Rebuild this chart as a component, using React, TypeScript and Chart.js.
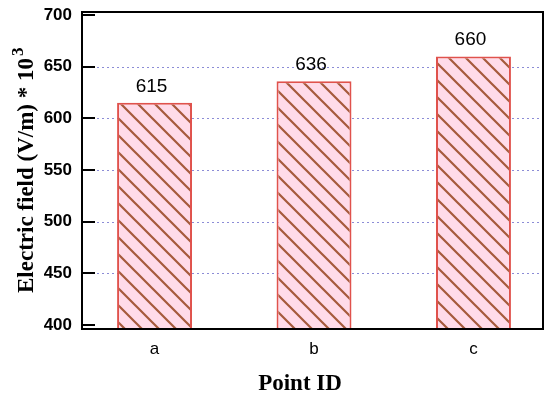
import React, { useEffect, useRef } from "react";
import { Chart, registerables } from "chart.js";

Chart.register(...registerables);

const categories = ["a", "b", "c"];
const fieldValues = [615, 636, 660];
const yTickValues = [400, 450, 500, 550, 600, 650, 700];
const gridValues = [450, 500, 550, 600, 650];
const yTitleMain = "Electric field (V/m) * 10";
const yTitleSup = "3";
const xTitle = "Point ID";

function makePattern(): CanvasPattern | string {
  const size = 17;
  const c = document.createElement("canvas");
  c.width = size;
  c.height = size;
  const g = c.getContext("2d");
  if (!g) return "#ffd9e8";
  g.fillStyle = "#ffdbe9";
  g.fillRect(0, 0, size, size);
  g.strokeStyle = "#a65a3c";
  g.lineWidth = 2.2;
  g.beginPath();
  g.moveTo(-2, -2);
  g.lineTo(size + 2, size + 2);
  g.moveTo(-2, size - 2);
  g.lineTo(2, size + 2);
  g.moveTo(size - 2, -2);
  g.lineTo(size + 2, 2);
  g.stroke();
  const p = g.createPattern(c, "repeat");
  return p || "#ffd9e8";
}

const framePlugin = {
  id: "framePlugin",
  beforeDatasetsDraw(chart: any) {
    const { ctx, chartArea } = chart;
    const y = chart.scales.y;
    ctx.save();
    ctx.strokeStyle = "#8c8cd6";
    ctx.lineWidth = 1;
    ctx.setLineDash([2, 3]);
    gridValues.forEach((v) => {
      const py = Math.round(y.getPixelForValue(v)) + 0.5;
      ctx.beginPath();
      ctx.moveTo(chartArea.left, py);
      ctx.lineTo(chartArea.right, py);
      ctx.stroke();
    });
    ctx.restore();
  },
  afterDatasetsDraw(chart: any) {
    const { ctx, chartArea } = chart;
    const y = chart.scales.y;
    ctx.save();
    // data labels
    const meta = chart.getDatasetMeta(0);
    ctx.fillStyle = "#000";
    ctx.font = "19px 'Liberation Sans', Arial, sans-serif";
    ctx.textAlign = "center";
    ctx.textBaseline = "alphabetic";
    meta.data.forEach((el: any, i: number) => {
      ctx.fillText(String(fieldValues[i]), el.x - 3, el.y - 11);
    });
    // frame
    ctx.strokeStyle = "#000";
    ctx.lineWidth = 2;
    ctx.strokeRect(
      chartArea.left,
      chartArea.top,
      chartArea.right - chartArea.left,
      chartArea.bottom - chartArea.top
    );
    // inside ticks
    yTickValues.forEach((v) => {
      const py = Math.round(y.getPixelForValue(v));
      ctx.beginPath();
      ctx.moveTo(chartArea.left, py);
      ctx.lineTo(chartArea.left + 13, py);
      ctx.stroke();
    });
    // x title
    ctx.font = "bold 23px 'Liberation Serif', 'Times New Roman', serif";
    ctx.textAlign = "center";
    ctx.fillText(xTitle, 300, 390);
    // y title
    ctx.translate(33, 293);
    ctx.rotate(-Math.PI / 2);
    ctx.textAlign = "left";
    ctx.font = "bold 23px 'Liberation Serif', 'Times New Roman', serif";
    ctx.fillText(yTitleMain, 0, 0);
    const w = ctx.measureText(yTitleMain).width;
    ctx.font = "bold 17px 'Liberation Serif', 'Times New Roman', serif";
    ctx.fillText(yTitleSup, w + 2, -10);
    ctx.restore();
  },
};

export default function App() {
  const ref = useRef<HTMLCanvasElement | null>(null);
  useEffect(() => {
    if (!ref.current) return;
    const pattern = makePattern();
    const chart = new Chart(ref.current, {
      type: "bar",
      data: {
        datasets: [
          {
            data: categories.map((_, i) => ({ x: i, y: fieldValues[i] })),
            backgroundColor: pattern as any,
            borderColor: "#e0524c",
            borderWidth: 2,
            barPercentage: 0.47,
            categoryPercentage: 1,
          },
        ],
      },
      options: {
        responsive: false,
        animation: false,
        layout: { padding: { left: 0, top: 12, right: 7, bottom: 0 } },
        plugins: {
          legend: { display: false },
          tooltip: { enabled: false },
        },
        scales: {
          x: {
            type: "linear",
            offset: false,
            min: -0.455,
            max: 2.436,
            grid: { display: false, drawTicks: false },
            border: { display: false },
            afterBuildTicks: (scale: any) => {
              scale.ticks = categories.map((_, i) => ({ value: i }));
            },
            afterFit: (scale: any) => {
              scale.height = 72;
              scale.paddingLeft = 0;
              scale.paddingRight = 0;
            },
            ticks: {
              callback: (v: any) => categories[Number(v)] ?? "",
              color: "#000",
              padding: 10,
              maxRotation: 0,
              font: { family: "'Liberation Sans', Arial, sans-serif", size: 17 },
            },
          },
          y: {
            min: 396,
            max: 703,
            grid: { display: false, drawTicks: false },
            border: { display: false },
            afterBuildTicks: (scale: any) => {
              scale.ticks = yTickValues.map((v) => ({ value: v }));
            },
            afterFit: (scale: any) => {
              scale.width = 82;
              scale.paddingTop = 0;
              scale.paddingBottom = 0;
            },
            ticks: {
              color: "#000",
              padding: 10,
              font: {
                family: "'Liberation Sans', Arial, sans-serif",
                size: 17,
                weight: "bold",
              },
            },
          },
        },
      },
      plugins: [framePlugin],
    });
    return () => chart.destroy();
  }, []);
  return (
    <canvas
      ref={ref}
      width={550}
      height={401}
      style={{ position: "absolute", left: 0, top: 0, display: "block" }}
    />
  );
}
